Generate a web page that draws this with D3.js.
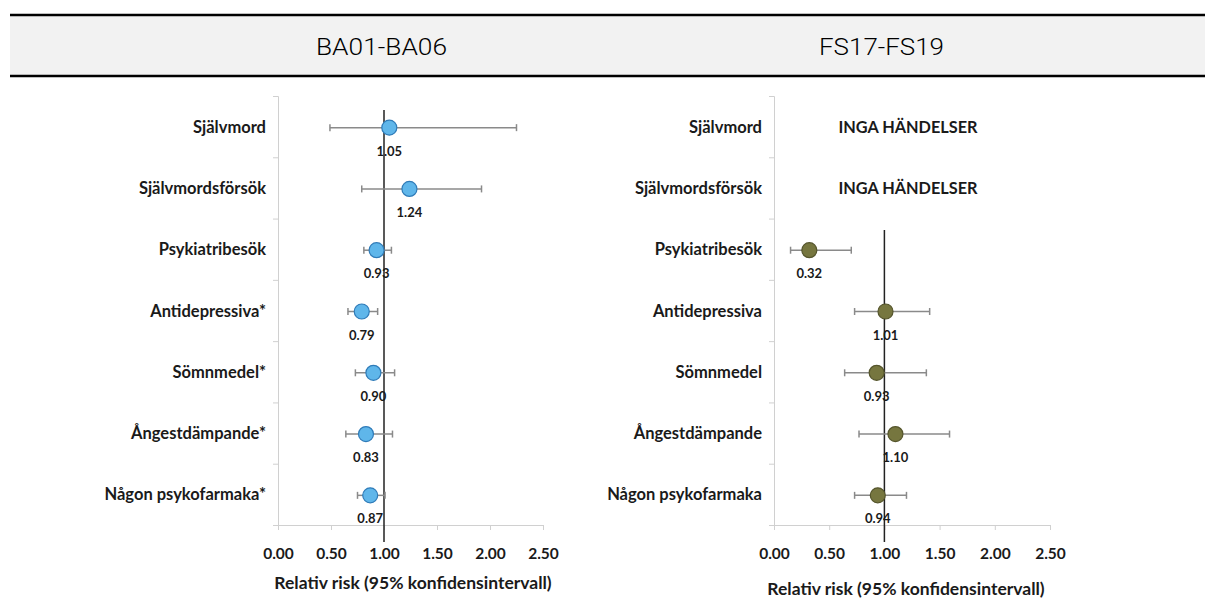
<!DOCTYPE html>
<html>
<head>
<meta charset="utf-8">
<title>Relativ risk</title>
<script src="https://d3js.org/d3.v7.min.js"></script>
<style>
  body { margin: 0; background: #fff; }
  text { font-family: Lato, "Open Sans", sans-serif; font-weight: bold; fill: #1a1a1a; }
  .head { font-family: Roboto, "DejaVu Sans", sans-serif; font-weight: 300; font-size: 24px; fill: #000; }
</style>
</head>
<body>
<svg id="chart" width="1205" height="606"></svg>
<script>
// data
var leftCats = ["Självmord", "Självmordsförsök", "Psykiatribesök", "Antidepressiva*", "Sömnmedel*", "Ångestdämpande*", "Någon psykofarmaka*"];
var leftRR = [1.05, 1.24, 0.93, 0.79, 0.90, 0.83, 0.87];
var leftLo = [0.49, 0.79, 0.81, 0.66, 0.73, 0.64, 0.75];
var leftHi = [2.25, 1.92, 1.07, 0.94, 1.10, 1.08, 1.01];

var rightCats = ["Självmord", "Självmordsförsök", "Psykiatribesök", "Antidepressiva", "Sömnmedel", "Ångestdämpande", "Någon psykofarmaka"];
var rightRR = [null, null, 0.32, 1.01, 0.93, 1.10, 0.94];
var rightLo = [null, null, 0.15, 0.73, 0.64, 0.77, 0.73];
var rightHi = [null, null, 0.70, 1.41, 1.38, 1.59, 1.20];

var xTicks = [0, 0.5, 1, 1.5, 2, 2.5];
var panelTitles = ["BA01-BA06", "FS17-FS19"];
var noEvents = "INGA HÄNDELSER";
var xTitle = "Relativ risk (95% konfidensintervall)";

var svg = d3.select("#chart");

// header band
svg.append("rect").attr("x", 10).attr("y", 15).attr("width", 1195).attr("height", 61).attr("fill", "#f2f2f2");
svg.append("line").attr("x1", 10).attr("x2", 1205).attr("y1", 15).attr("y2", 15).attr("stroke", "#000").attr("stroke-width", 2.5);
svg.append("line").attr("x1", 10).attr("x2", 1205).attr("y1", 76).attr("y2", 76).attr("stroke", "#000").attr("stroke-width", 2.5);
svg.append("text").attr("class", "head").attr("x", 316).attr("y", 55)
  .attr("textLength", 131).attr("lengthAdjust", "spacingAndGlyphs").text(panelTitles[0]);
svg.append("text").attr("class", "head").attr("x", 819).attr("y", 55)
  .attr("textLength", 125).attr("lengthAdjust", "spacingAndGlyphs").text(panelTitles[1]);

function drawPanel(opt) {
  var g = svg.append("g");
  var x = d3.scaleLinear().domain([0, 2.5]).range([opt.x0, opt.x1]);
  var y = d3.scaleBand().domain(d3.range(opt.cats.length)).range([96, 525]);

  // axes
  var xAxis = d3.axisBottom(x).tickValues(xTicks).tickFormat(d3.format(".2f")).tickSize(5);
  var gx = g.append("g").attr("transform", "translate(0,525)").call(xAxis);
  gx.select(".domain").attr("stroke", "#d0d0d0");
  gx.selectAll(".tick line").attr("stroke", "#d0d0d0");
  gx.selectAll(".tick text").attr("y", 23).attr("font-size", 15.5).attr("font-family", "Lato, sans-serif").attr("fill", "#1a1a1a");

  var yAxis = d3.axisLeft(d3.scaleLinear().domain([0, opt.cats.length]).range([96, 525]))
    .tickValues(d3.range(1, opt.cats.length)).tickFormat("").tickSize(5);
  var gy = g.append("g").attr("transform", "translate(" + opt.x0 + ",0)").call(yAxis);
  gy.select(".domain").attr("stroke", "#d0d0d0");
  gy.selectAll(".tick line").attr("stroke", "#d0d0d0");

  // category labels
  g.selectAll(".cat").data(opt.cats).enter().append("text")
    .attr("x", opt.x0 - 12)
    .attr("y", function(d, i) { return y(i) + y.bandwidth() / 2 + 6; })
    .attr("text-anchor", "end").attr("font-size", 16.5)
    .text(function(d) { return d; });

  // reference line at 1
  g.append("line").attr("x1", x(1)).attr("x2", x(1)).attr("y1", opt.refTop).attr("y2", 542)
    .attr("stroke", "#222").attr("stroke-width", 1.5);

  var rows = opt.rr.map(function(v, i) { return { i: i, rr: v, lo: opt.lo[i], hi: opt.hi[i] }; });
  var shown = rows.filter(function(d) { return d.rr != null; });
  var empty = rows.filter(function(d) { return d.rr == null; });

  g.selectAll(".none").data(empty).enter().append("text")
    .attr("x", opt.noneX).attr("y", function(d) { return y(d.i) + y.bandwidth() / 2 + 6; })
    .attr("text-anchor", "middle").attr("font-size", 16.3)
    .text(noEvents);

  var cy = function(d) { return y(d.i) + y.bandwidth() / 2 + 1; };
  g.selectAll(".ci").data(shown).enter().append("line")
    .attr("x1", function(d) { return x(d.lo); }).attr("x2", function(d) { return x(d.hi); })
    .attr("y1", cy).attr("y2", cy).attr("stroke", "#8a8a8a").attr("stroke-width", 1.5);
  ["lo", "hi"].forEach(function(k) {
    g.selectAll(".cap-" + k).data(shown).enter().append("line")
      .attr("x1", function(d) { return x(d[k]); }).attr("x2", function(d) { return x(d[k]); })
      .attr("y1", function(d) { return cy(d) - 3.5; }).attr("y2", function(d) { return cy(d) + 3.5; })
      .attr("stroke", "#8a8a8a").attr("stroke-width", 1.5);
  });
  g.selectAll(".pt").data(shown).enter().append("circle")
    .attr("cx", function(d) { return x(d.rr); }).attr("cy", cy).attr("r", 7.5)
    .attr("fill", opt.fill).attr("stroke", opt.stroke).attr("stroke-width", 1.2);
  g.selectAll(".val").data(shown).enter().append("text")
    .attr("x", function(d) { return x(d.rr); }).attr("y", function(d) { return cy(d) + 28; })
    .attr("text-anchor", "middle").attr("font-size", 13)
    .text(function(d) { return d.rr.toFixed(2); });

  g.append("text").attr("x", opt.titleX).attr("y", opt.titleY).attr("text-anchor", "middle")
    .attr("font-size", 17.5).text(xTitle);
}

drawPanel({ cats: leftCats, rr: leftRR, lo: leftLo, hi: leftHi, x0: 278, x1: 543, refTop: 110,
  fill: "#5fb6ea", stroke: "#2f7bb8", titleX: 413, titleY: 589 });
drawPanel({ cats: rightCats, rr: rightRR, lo: rightLo, hi: rightHi, x0: 774, x1: 1050, refTop: 230,
  fill: "#76763f", stroke: "#55552c", titleX: 906, titleY: 595, noneX: 908 });
</script>
</body>
</html>
